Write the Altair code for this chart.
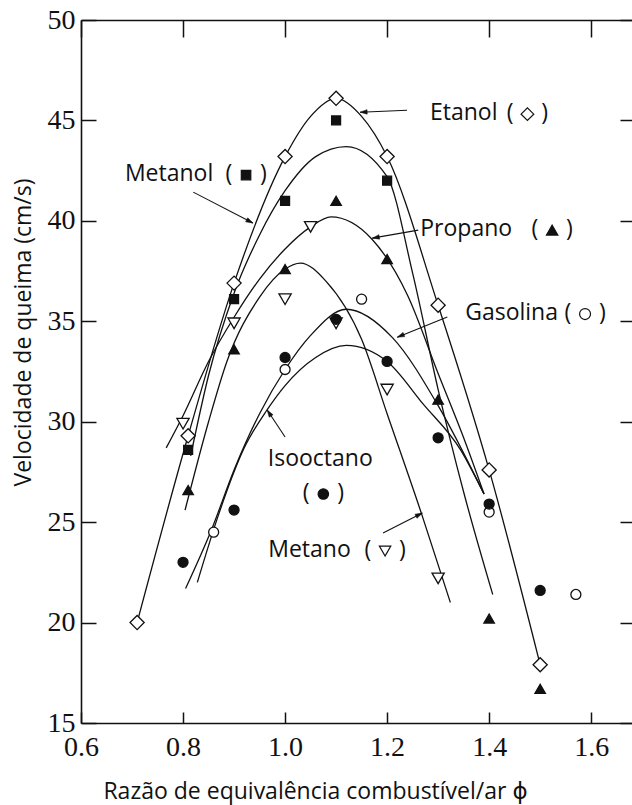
import math
import altair as alt
import pandas as pd

# ---------------- measured points (phi, burning velocity cm/s) ----------------
etanol_x = [0.71, 0.81, 0.90, 1.00, 1.10, 1.20, 1.30, 1.40, 1.50]
etanol_y = [20.0, 29.3, 36.9, 43.2, 46.1, 43.2, 35.8, 27.6, 17.9]
metanol_x = [0.81, 0.90, 1.00, 1.10, 1.20]
metanol_y = [28.6, 36.1, 41.0, 45.0, 42.0]
propano_x = [0.81, 0.90, 1.00, 1.10, 1.20, 1.30, 1.40, 1.50]
propano_y = [26.6, 33.6, 37.6, 41.0, 38.1, 31.1, 20.2, 16.7]
metano_x = [0.80, 0.90, 1.00, 1.05, 1.10, 1.20, 1.30]
metano_y = [29.9, 34.9, 36.1, 39.7, 34.9, 31.6, 22.2]
gasolina_x = [0.86, 1.00, 1.15, 1.40, 1.57]
gasolina_y = [24.5, 32.6, 36.1, 25.5, 21.4]
isooctano_x = [0.80, 0.90, 1.00, 1.10, 1.20, 1.30, 1.40, 1.50]
isooctano_y = [23.0, 25.6, 33.2, 35.1, 33.0, 29.2, 25.9, 21.6]

# ---------------- fitted curves as drawn ----------------
c_etanol_x = [0.71, 0.81, 0.90, 1.00, 1.05, 1.10, 1.15, 1.20, 1.30, 1.40, 1.50]
c_etanol_y = [20.0, 29.3, 36.9, 43.2, 45.2, 46.1, 45.2, 43.2, 35.8, 27.6, 17.9]
c_metanol_x = [0.815, 0.85, 0.90, 0.95, 1.00, 1.06, 1.12, 1.20, 1.25, 1.30, 1.35, 1.407]
c_metanol_y = [28.3, 32.3, 36.4, 39.3, 41.5, 43.2, 43.7, 42.2, 37.4, 31.6, 26.5, 21.4]
c_propano_x = [0.767, 0.80, 0.85, 0.90, 0.95, 1.00, 1.05, 1.09, 1.17, 1.24, 1.30, 1.35, 1.39]
c_propano_y = [28.7, 30.3, 33.0, 35.2, 37.1, 38.6, 39.7, 40.2, 39.1, 36.3, 32.4, 29.2, 26.4]
c_metano_x = [0.804, 0.85, 0.886, 0.95, 1.00, 1.03, 1.08, 1.15, 1.20, 1.269, 1.324]
c_metano_y = [25.6, 30.0, 33.0, 36.2, 37.6, 37.9, 37.0, 34.1, 30.4, 25.3, 21.0]
c_gasolina_x = [0.805, 0.857, 0.90, 0.95, 1.00, 1.05, 1.12, 1.21, 1.30, 1.39]
c_gasolina_y = [21.7, 24.7, 27.6, 30.4, 32.6, 34.3, 35.6, 34.2, 30.8, 26.4]
c_isooctano_x = [0.828, 0.87, 0.92, 0.965, 1.00, 1.06, 1.12, 1.20, 1.27, 1.344, 1.39]
c_isooctano_y = [22.0, 25.4, 28.7, 30.6, 31.8, 33.2, 33.8, 33.0, 30.9, 28.6, 26.4]

# ---------------- annotations ----------------
word_text = ["Etanol", "Metanol", "Propano", "Gasolina", "Metano"]
word_x = [1.284, 0.686, 1.265, 1.353, 0.967]
word_y = [45.36, 42.33, 39.59, 35.41, 23.61]
center_text = ["Isooctano"]
center_x = [1.069]
center_y = [28.14]
# "( symbol )" groups next to each name
sym_name = ["Etanol", "Metanol", "Propano", "Gasolina", "Isooctano", "Metano"]
sym_x = [1.475, 0.9235, 1.5235, 1.588, 1.075, 1.196]
sym_y = [45.36, 42.33, 39.59, 35.41, 26.45, 23.61]
arrow_x1 = [1.239, 0.820, 1.261, 1.318, 1.000, 1.192]
arrow_y1 = [45.51, 41.43, 39.54, 35.21, 29.24, 24.46]
arrow_x2 = [1.147, 0.937, 1.171, 1.220, 0.965, 1.269]
arrow_y2 = [45.41, 39.89, 39.14, 34.21, 30.58, 25.45]

x_ticks = [0.6, 0.8, 1.0, 1.2, 1.4, 1.6]
y_ticks = [15, 20, 25, 30, 35, 40, 45, 50]

# ---------------- layout ----------------
W, H = 551, 703
XDOM = [0.6, 1.68]
YDOM = [15, 50]
PXX = W / (XDOM[1] - XDOM[0])
PXY = H / (YDOM[1] - YDOM[0])
SANS = "Open Sans, DejaVu Sans, sans-serif"
SERIF = "Liberation Serif, Times New Roman, serif"
INK = "#111111"

xs = alt.Scale(domain=XDOM, nice=False, zero=False)
ys = alt.Scale(domain=YDOM, nice=False, zero=False)

curves = []
for name, cx, cy in [("Etanol", c_etanol_x, c_etanol_y), ("Metanol", c_metanol_x, c_metanol_y),
                     ("Propano", c_propano_x, c_propano_y), ("Metano", c_metano_x, c_metano_y),
                     ("Gasolina", c_gasolina_x, c_gasolina_y), ("Isooctano", c_isooctano_x, c_isooctano_y)]:
    for i, (a, b) in enumerate(zip(cx, cy)):
        curves.append({"curve": name, "phi": a, "v": b, "o": i})
curves_df = pd.DataFrame(curves)

main_x_axis = alt.Axis(orient="bottom", values=x_ticks, format=".1f", ticks=False, tickSize=0,
                       labelPadding=10, labelFont=SERIF, labelFontSize=28, labelColor=INK,
                       labelFlush=False, labelOverlap=False, labelBound=False,
                       domainColor=INK, domainWidth=1.6,
                       title="Razão de equivalência combustível/ar ϕ", titleFont=SANS,
                       titleFontSize=23, titleFontWeight="normal", titleColor=INK,
                       titleX=234, titleY=57)
main_y_axis = alt.Axis(orient="left", values=y_ticks, ticks=False, tickSize=0,
                       labelPadding=6, labelFont=SERIF, labelFontSize=28, labelColor=INK,
                       labelFlush=False, labelOverlap=False, labelBound=False,
                       domainColor=INK, domainWidth=1.6,
                       title="Velocidade de queima (cm/s)", titleFont=SANS,
                       titleFontSize=23, titleFontWeight="normal", titleColor=INK,
                       titleX=-46, titleY=312)

lines = alt.Chart(curves_df).mark_line(interpolate="monotone", color=INK, strokeWidth=1.3).encode(
    x=alt.X("phi:Q", scale=xs, axis=main_x_axis),
    y=alt.Y("v:Q", scale=ys, axis=main_y_axis),
    detail="curve:N",
    order="o:Q",
)

# inward ticks: bottom + left
ticks_a = alt.Chart(curves_df).mark_point(opacity=0).encode(
    x=alt.X("phi:Q", scale=xs, axis=alt.Axis(orient="top", offset=-H, values=x_ticks, labels=False,
                                              ticks=True, tickSize=11, tickWidth=1.5, tickColor=INK,
                                              domain=False, title=None)),
    y=alt.Y("v:Q", scale=ys, axis=alt.Axis(orient="right", offset=-W, values=y_ticks, labels=False,
                                            ticks=True, tickSize=15, tickWidth=1.5, tickColor=INK,
                                            domain=False, title=None)),
)
# inward ticks: top + right, and top frame line
ticks_b = alt.Chart(curves_df).mark_point(opacity=0).encode(
    x=alt.X("phi:Q", scale=xs, axis=alt.Axis(orient="bottom", offset=-H, values=x_ticks, labels=False,
                                              ticks=True, tickSize=17, tickWidth=1.5, tickColor=INK,
                                              domain=True, domainColor=INK, domainWidth=1.6, title=None)),
    y=alt.Y("v:Q", scale=ys, axis=alt.Axis(orient="left", offset=-W, values=y_ticks, labels=False,
                                            ticks=True, tickSize=12, tickWidth=1.5, tickColor=INK,
                                            domain=False, title=None)),
)

# marker style per fuel: (shape, fill, size in plot, size in label)
styles = {
    "Etanol": ("diamond", "white", 200, 160),
    "Metanol": ("square", INK, 80, 90),
    "Propano": ("triangle-up", INK, 110, 130),
    "Metano": ("triangle-down", "white", 150, 130),
    "Gasolina": ("circle", "white", 100, 120),
    "Isooctano": ("circle", INK, 100, 110),
}
series = [("Etanol", etanol_x, etanol_y), ("Metanol", metanol_x, metanol_y),
          ("Propano", propano_x, propano_y), ("Metano", metano_x, metano_y),
          ("Gasolina", gasolina_x, gasolina_y), ("Isooctano", isooctano_x, isooctano_y)]
marker_layers = []
for name, px, py in series:
    shape, fill, size, _ = styles[name]
    df = pd.DataFrame({"phi": px, "v": py})
    marker_layers.append(
        alt.Chart(df).mark_point(shape=shape, filled=True, fill=fill, stroke=INK, strokeWidth=1.3,
                                 size=size, opacity=1).encode(
            x=alt.X("phi:Q", scale=xs, axis=None),
            y=alt.Y("v:Q", scale=ys, axis=None),
        )
    )

# arrows
ang = []
for a1, b1, a2, b2 in zip(arrow_x1, arrow_y1, arrow_x2, arrow_y2):
    dx = (a2 - a1) * PXX
    dy = -(b2 - b1) * PXY
    ang.append(math.degrees(math.atan2(dx, -dy)) % 360)
arrows_df = pd.DataFrame({"x1": arrow_x1, "y1": arrow_y1, "x2": arrow_x2, "y2": arrow_y2, "ang": ang})

arrow_lines = alt.Chart(arrows_df).mark_rule(color=INK, strokeWidth=1.1).encode(
    x=alt.X("x1:Q", scale=xs, axis=None), y=alt.Y("y1:Q", scale=ys, axis=None),
    x2="x2:Q", y2="y2:Q",
)
arrow_heads = alt.Chart(arrows_df).mark_point(shape="M0,0L0.32,1L-0.32,1Z", filled=True, fill=INK,
                                              stroke=INK, strokeWidth=0.5, size=200, opacity=1).encode(
    x=alt.X("x2:Q", scale=xs, axis=None), y=alt.Y("y2:Q", scale=ys, axis=None),
    angle=alt.Angle("ang:Q", scale=None),
)

words_left = alt.Chart(pd.DataFrame({"t": word_text, "x": word_x, "y": word_y})).mark_text(
    align="left", baseline="middle", font=SANS, fontSize=23, color=INK).encode(
    x=alt.X("x:Q", scale=xs, axis=None), y=alt.Y("y:Q", scale=ys, axis=None), text="t:N")
words_center = alt.Chart(pd.DataFrame({"t": center_text, "x": center_x, "y": center_y})).mark_text(
    align="center", baseline="middle", font=SANS, fontSize=23, color=INK).encode(
    x=alt.X("x:Q", scale=xs, axis=None), y=alt.Y("y:Q", scale=ys, axis=None), text="t:N")

sym_df = pd.DataFrame({"name": sym_name, "x": sym_x, "y": sym_y})
parens = alt.Chart(sym_df).mark_text(
    align="center", baseline="middle", font=SANS, fontSize=23, color=INK,
    text="(\u00a0\u00a0\u00a0\u00a0\u2009)").encode(
    x=alt.X("x:Q", scale=xs, axis=None), y=alt.Y("y:Q", scale=ys, axis=None))
sym_layers = []
for name in sym_name:
    shape, fill, _, lsize = styles[name]
    sym_layers.append(
        alt.Chart(sym_df[sym_df["name"] == name]).mark_point(
            shape=shape, filled=True, fill=fill, stroke=INK, strokeWidth=1.2, size=lsize, opacity=1,
            yOffset=1).encode(
            x=alt.X("x:Q", scale=xs, axis=None), y=alt.Y("y:Q", scale=ys, axis=None))
    )

chart = alt.layer(
    lines, ticks_a, ticks_b, arrow_lines, arrow_heads, *marker_layers,
    words_left, words_center, parens, *sym_layers
).resolve_axis(x="independent", y="independent").properties(
    width=W, height=H,
    autosize=alt.AutoSizeParams(type="none"),
    padding={"left": 81, "top": 20, "right": 0, "bottom": 82},
    background="white",
).configure_axis(grid=False).configure_view(strokeWidth=0)

chart.save("out.html", embed_options={"renderer": "svg", "actions": False})
